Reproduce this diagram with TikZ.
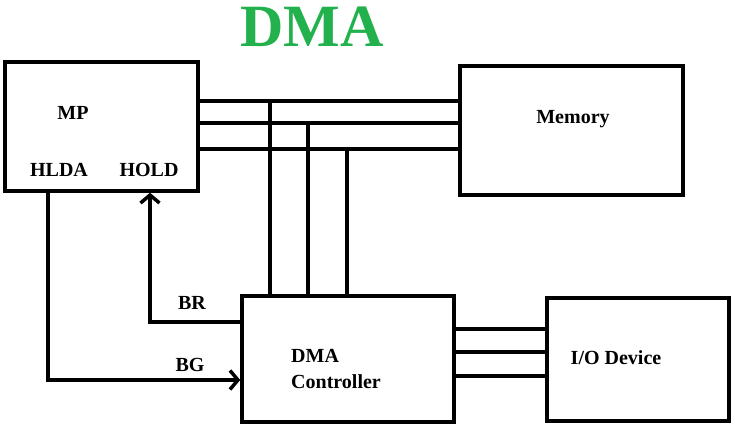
\documentclass[tikz,border=0pt]{standalone}
\usepackage{fontspec}
\setmainfont{Liberation Serif}
\usetikzlibrary{positioning,arrows.meta}
\definecolor{dmagreen}{RGB}{34,177,76}
\tikzstyle{block} = [
rectangle,
draw=black,
line width=3.5pt,
inner sep=0pt
]
\tikzstyle{lbl} = [
font=\fontsize{20}{26}\selectfont\bfseries,
inner sep=0pt
]
\tikzstyle{bus} = [
line width=3.5pt
]
\tikzstyle{arrow} = [
line width=3.5pt,
-{Straight Barb[length=8pt,width=19pt]}
]
\begin{document}
\begin{tikzpicture}[x=1pt,y=-1pt]
					\useasboundingbox (0,0) rectangle (735,427);
					%Title
					\node[font=\fontsize{60}{60}\selectfont\bfseries,text=dmagreen,inner sep=0pt,anchor=base] (title) at (312,47) {DMA};
					%Nodes
					\node[block,minimum width=193pt,minimum height=129pt] (mp) at (101.5,126.5) {};
					\node[block,minimum width=223pt,minimum height=129pt] (mem) at (571.5,130.5) {};
					\node[block,minimum width=212pt,minimum height=126pt] (dma) at (348,359) {};
					\node[block,minimum width=182pt,minimum height=123pt] (io) at (638,359.5) {};
					%Texts
					\node[lbl,anchor=base] (mptext) at (73,120) {MP};
					\node[lbl,anchor=base] (hlda) at (59,177) {HLDA};
					\node[lbl,anchor=base] (hold) at (149,177) {HOLD};
					\node[lbl,anchor=base] (memtext) at (573,124) {Memory};
					\node[lbl,anchor=west,align=left] (dmatext) at (291,369) {DMA\\Controller};
					\node[lbl,anchor=base] (iotext) at (616,364) {I/O Device};
					\node[lbl,anchor=base] (br) at (192,309) {BR};
					\node[lbl,anchor=base] (bg) at (190,371) {BG};
					%Bus
					\foreach \y in {101,123,149}
						\draw[bus] (mp.east |- 0,\y) -- (mem.west |- 0,\y);
					\draw[bus] (dma.north -| 270,0) -- (270,101);
					\draw[bus] (dma.north -| 308,0) -- (308,123);
					\draw[bus] (dma.north -| 347,0) -- (347,149);
					\foreach \y in {329,352,376}
						\draw[bus] (dma.east |- 0,\y) -- (io.west |- 0,\y);
					%Arrows
					\draw[arrow] (dma.west |- 0,322) -| (mp.south -| 150,0);
					\draw[arrow] (mp.south -| 48,0) |- (dma.west |- 0,380);
				\end{tikzpicture}
\end{document}
